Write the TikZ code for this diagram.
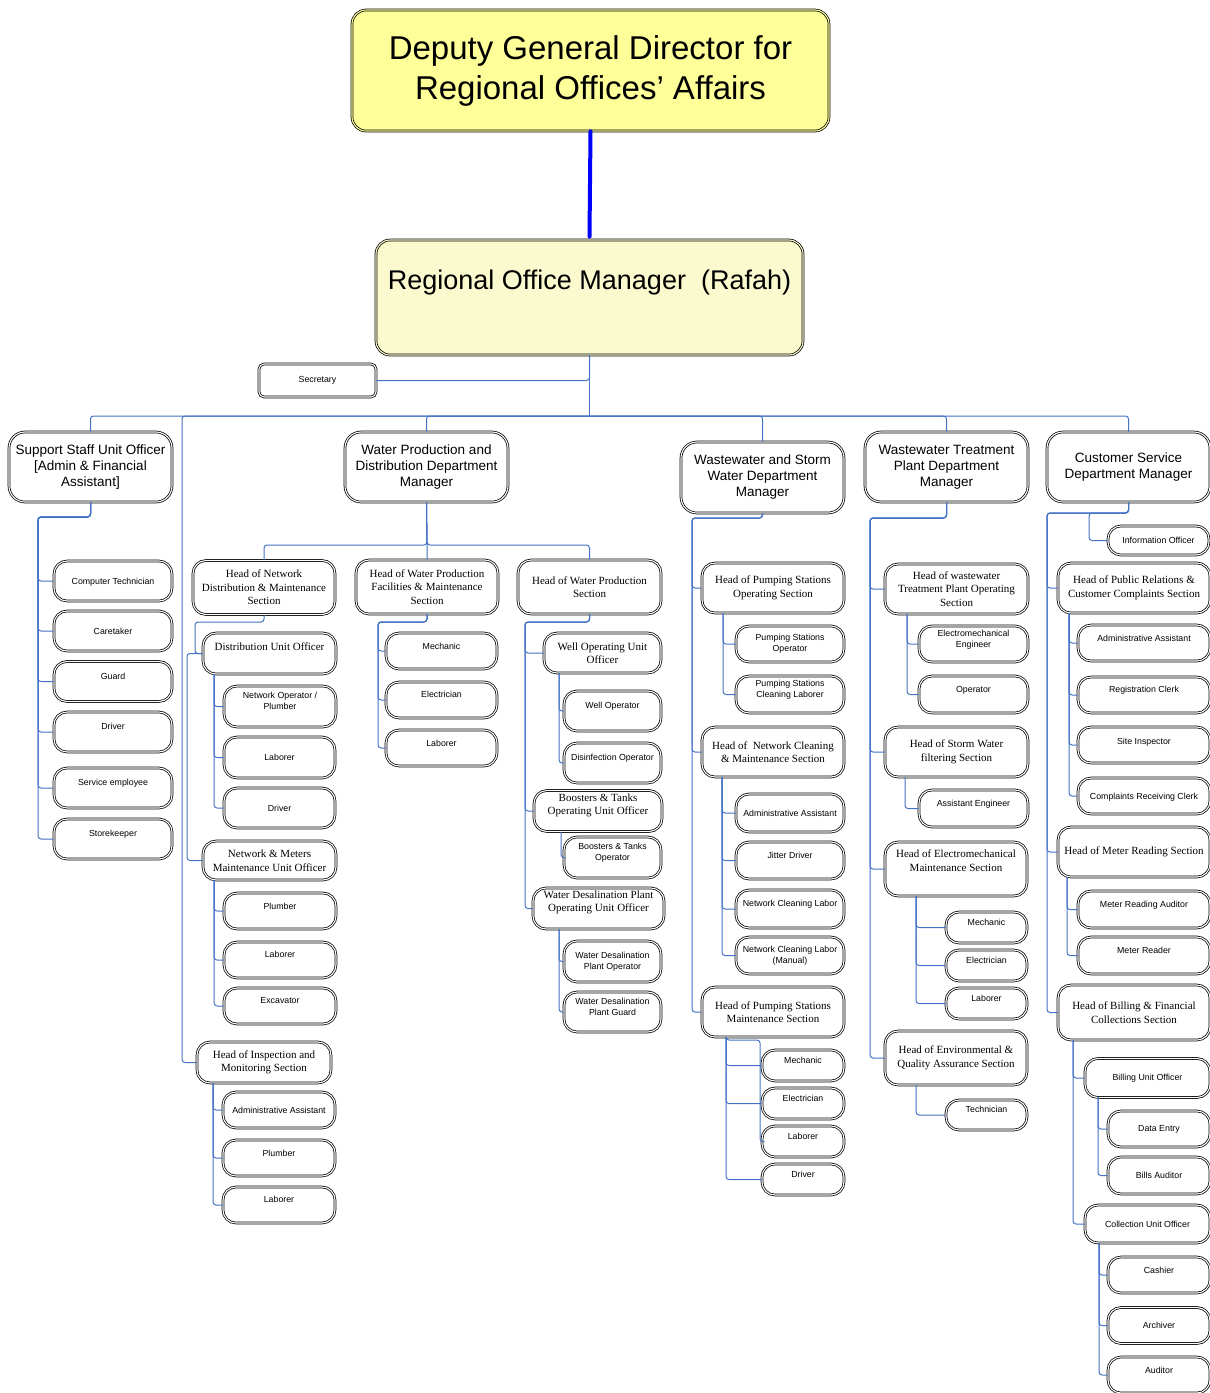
\documentclass[tikz,border=0pt]{standalone}
\usepackage{fontspec}
\setmainfont{Liberation Serif}
\newfontfamily\arial{Liberation Sans}
\definecolor{linkblue}{RGB}{68,114,196}
\definecolor{topyellow}{RGB}{255,255,153}
\definecolor{romyellow}{RGB}{250,250,206}
\tikzset{
  box/.style={draw=black, double=white, double distance=1.1pt, line width=0.75pt,
    rounded corners=13pt, fill=white, align=center, inner sep=1pt},
  dept/.style={box, rounded corners=16pt, font=\arial\fontsize{13.5}{16}\selectfont},
  head/.style={box, font=\fontsize{11}{13.5}\selectfont},
  staff/.style={box, font=\arial\fontsize{8.8}{11}\selectfont},
  sz/.style 2 args={minimum width=#1pt, minimum height=#2pt},
  hi/.style={text height=6.3pt, text depth=#1},
  hii/.style={text height=6.3pt, text depth=#1-11pt},
  hih/.style={text height=7.3pt, text depth=#1-13.5pt},
  conn/.style={draw=linkblue, line width=1pt, rounded corners=3pt},
}
\begin{document}
\begin{tikzpicture}[x=1pt, y=-1pt]
\useasboundingbox (0,0) rectangle (1210,1393);

% top of the chart
\node[box, fill=topyellow, double=topyellow, rounded corners=14pt, sz={477}{121},
  font=\arial\fontsize{33}{40}\selectfont] (dgd) at (590.5,70.5)
  {Deputy General Director for\\Regional Offices’ Affairs};
\node[box, fill=romyellow, double=romyellow, rounded corners=14pt, sz={427}{115},
  font=\arial\fontsize{27}{32}\selectfont, text height=19.5pt, text depth=35pt]
  (rom) at (589.5,297.5) {Regional Office Manager\ \ (Rafah)};
\node[staff, rounded corners=5pt, sz={117}{33}] (sec) at (317.5,380.5) {Secretary};
\draw[line width=4pt, blue, line cap=round] (dgd.south) -- ([yshift=3pt]rom.north);

% departments
\node[dept, sz={163}{70}] (supp) at (90.5,467) {Support Staff Unit Officer\\{}[Admin \& Financial\\Assistant]};
\node[dept, sz={163}{70}] (wpd) at (426.5,467) {Water Production and\\Distribution Department\\Manager};
\node[dept, sz={163}{71}] (wsw) at (762.5,477.5) {Wastewater and Storm\\Water Department\\Manager};
\node[dept, sz={163}{70}] (wtp) at (946.5,467) {Wastewater Treatment\\Plant Department\\Manager};
\node[dept, sz={163}{70}] (cs) at (1128.5,467) {Customer Service\\Department Manager};

\coordinate (bus) at (589.5,416);
\draw[conn] (rom.south) |- (sec.east);
\draw[conn] (rom.south) -- (bus);
\foreach \d in {supp,wpd,wsw,wtp,cs} \draw[conn] (bus) -| (\d.north);

% support staff unit
\foreach \n/\y/\t/\u in {ct/581/Computer Technician/0pt, ctk/631/Caretaker/0pt, gd/681.5/Guard/11pt,
  drv1/732/Driver/12pt, semp/788/Service employee/12pt, stk/839/Storekeeper/12pt}
  \node[staff, sz={118}{40}, hi=\u] (\n) at (113,\y) {\t};
\coordinate (suppT) at (38,517);
\foreach \n in {ct,ctk,gd,drv1,semp,stk} \draw[conn] (supp.south) |- (suppT) |- (\n.west);

% water production and distribution
\node[head, sz={142}{54}] (hnd) at (264,587.5) {Head of Network\\Distribution \& Maintenance\\Section};
\node[head, sz={142}{54}] (hwpf) at (427,587) {Head of Water Production\\Facilities \& Maintenance\\Section};
\node[head, sz={143}{54}] (hwps) at (589.5,587) {Head of Water Production\\Section};
\coordinate (wpdB) at (427,545);
\foreach \h in {hnd,hwpf,hwps} \draw[conn] (wpd.south) -- (wpdB) -| (\h.north);

% network distribution section
\node[head, sz={133}{41}, text height=7.3pt, text depth=13pt] (duo) at (269.5,653.5) {Distribution Unit Officer};
\node[staff, sz={112}{41}, hii=12pt] (nop) at (280,706.5) {Network Operator /\\Plumber};
\node[staff, sz={111}{41}] (lab1) at (279.5,757.5) {Laborer};
\node[staff, sz={111}{40}] (drv2) at (279.5,808) {Driver};
\node[head, sz={133}{39}] (nmm) at (269.5,860.5) {Network \& Meters\\Maintenance Unit Officer};
\foreach \n/\y/\t/\u in {plb1/911/Plumber/10pt, lab2/960/Laborer/12pt, exc/1006/Excavator/12pt}
  \node[staff, sz={112}{36}, hi=\u] (\n) at (280,\y) {\t};
\node[head, sz={134}{41}] (insp) at (264,1062.5) {Head of Inspection and\\Monitoring Section};
\foreach \n/\y/\t/\u in {adm1/1110/Administrative Assistant/0pt, plb2/1158/Plumber/10pt, lab3/1205/Laborer/12pt}
  \node[staff, sz={112}{36}, hi=\u] (\n) at (279,\y) {\t};
\coordinate (hndT) at (195,622);
\coordinate (duoL) at (187,660);
\coordinate (ndL) at (182,440);
\draw[conn] (hnd.south) |- (hndT) |- (duo.west);
\draw[conn] (duo.west) -| (duoL) |- (nmm.west);
\draw[conn] (bus) -| (ndL) |- (insp.west);
\coordinate (duoT) at (214,674);
\foreach \n in {nop,lab1,drv2} \draw[conn] (duoT) |- (\n.west);
\coordinate (nmmT) at (214,880);
\foreach \n in {plb1,lab2,exc} \draw[conn] (nmmT) |- (\n.west);
\coordinate (inspT) at (213,1083);
\foreach \n in {adm1,plb2,lab3} \draw[conn] (inspT) |- (\n.west);

% production facilities section
\foreach \n/\y/\t/\u in {mech1/651/Mechanic/10pt, elec1/700/Electrician/12pt, lab4/748/Laborer/10pt}
  \node[staff, sz={111}{36}, hi=\u] (\n) at (441.5,\y) {\t};
\coordinate (hwpfT) at (378,622);
\foreach \n in {mech1,elec1,lab4} \draw[conn] (hwpf.south) |- (hwpfT) |- (\n.west);

% water production section
\node[head, sz={117}{40}] (wou) at (602.5,653) {Well Operating Unit\\Officer};
\node[staff, sz={97}{40}, hi=12pt] (wop) at (612.5,711) {Well Operator};
\node[staff, sz={97}{40}, hi=12pt] (dis) at (612.5,763) {Disinfection Operator};
\node[head, sz={128}{41}, hih=12pt] (btu) at (598,811) {Boosters \& Tanks\\Operating Unit Officer};
\node[staff, sz={97}{41}, hii=10pt] (bto) at (612.5,857.5) {Boosters \& Tanks\\Operator};
\node[head, sz={131}{41}, hih=14pt] (wdu) at (598.5,908.5) {Water Desalination Plant\\Operating Unit Officer};
\node[staff, sz={97}{41}] (wdo) at (612.5,961.5) {Water Desalination\\Plant Operator};
\node[staff, sz={97}{40}, hii=11pt] (wdg) at (612.5,1012) {Water Desalination\\Plant Guard};
\coordinate (hwpsT) at (525,622);
\foreach \n in {wou,btu,wdu} \draw[conn] (hwps.south) |- (hwpsT) |- (\n.west);
\coordinate (wouT) at (559,673);
\foreach \n in {wop,dis} \draw[conn] (wouT) |- (\n.west);
\coordinate (btuT) at (561,832);
\draw[conn] (btuT) |- (bto.west);
\coordinate (wduT) at (559,929);
\foreach \n in {wdo,wdg} \draw[conn] (wduT) |- (\n.west);

% wastewater and storm water
\node[head, sz={142}{50}] (hpso) at (773,588) {Head of Pumping Stations\\Operating Section};
\node[staff, sz={108}{36}] (pso) at (790,644) {Pumping Stations\\Operator};
\node[staff, sz={108}{37}, hii=10pt] (pscl) at (790,694.5) {Pumping Stations\\Cleaning Laborer};
\node[head, sz={142}{50}] (hncm) at (773,752) {Head of\ \ Network Cleaning\\\& Maintenance Section};
\node[staff, sz={108}{38}] (adm2) at (790,813) {Administrative Assistant};
\node[staff, sz={108}{37}, hi=11pt] (jit) at (790,860.5) {Jitter Driver};
\node[staff, sz={108}{38}, hi=12pt] (ncl) at (790,909) {Network Cleaning Labor};
\node[staff, sz={108}{37}] (nclm) at (790,955.5) {Network Cleaning Labor\\(Manual)};
\node[head, sz={142}{50}] (hpsm) at (773,1012) {Head of Pumping Stations\\Maintenance Section};
\foreach \n/\y/\t in {mech2/1065.5/Mechanic, elec2/1103.5/Electrician, lab5/1141.5/Laborer, drv3/1179.5/Driver}
  \node[staff, sz={82}{31}, hi=11pt] (\n) at (803,\y) {\t};
\coordinate (wswT) at (692,518);
\foreach \n in {hpso,hncm,hpsm} \draw[conn] (wsw.south) |- (wswT) |- (\n.west);
\coordinate (hpsoT) at (723,613);
\foreach \n in {pso,pscl} \draw[conn] (hpsoT) |- (\n.west);
\coordinate (hncmT) at (722,777);
\foreach \n in {adm2,jit,ncl,nclm} \draw[conn] (hncmT) |- (\n.west);
\coordinate (hpsmT) at (726,1037);
\coordinate (hpsmR) at (760,1040);
\foreach \n in {mech2,elec2,drv3} \draw[conn] (hpsmT) |- (\n.west);
\draw[conn] (hpsmT) |- (hpsmR) |- (lab5.west);

% wastewater treatment plant
\node[head, sz={143}{50}] (hwto) at (956.5,589) {Head of wastewater\\Treatment Plant Operating\\Section};
\node[staff, sz={109}{36}, hii=11pt] (eme) at (973.5,644) {Electromechanical\\Engineer};
\node[staff, sz={109}{37}, hi=11pt] (opr) at (973.5,694.5) {Operator};
\node[head, sz={143}{50}] (hswf) at (956.5,752) {Head of Storm Water\\filtering Section};
\node[staff, sz={109}{37}, hi=11pt] (aeng) at (973.5,808.5) {Assistant Engineer};
\node[head, sz={142}{54}, hih=16pt] (hem) at (956,869) {Head of Electromechanical\\Maintenance Section};
\foreach \n/\y/\t in {mech3/927.5/Mechanic, elec3/965.5/Electrician, lab6/1003.5/Laborer}
  \node[staff, sz={81}{31}, hi=11pt] (\n) at (986.5,\y) {\t};
\node[head, sz={142}{54}] (heqa) at (956,1058) {Head of Environmental \&\\Quality Assurance Section};
\node[staff, sz={81}{30}, hi=12pt] (tech) at (986.5,1115) {Technician};
\coordinate (wtpT) at (870,518);
\foreach \n in {hwto,hswf,hem,heqa} \draw[conn] (wtp.south) |- (wtpT) |- (\n.west);
\coordinate (hwtoT) at (907,614);
\foreach \n in {eme,opr} \draw[conn] (hwtoT) |- (\n.west);
\coordinate (hswfT) at (905,777);
\draw[conn] (hswfT) |- (aeng.west);
\coordinate (hemT) at (916,896);
\foreach \n in {mech3,elec3,lab6} \draw[conn] (hemT) |- (\n.west);
\coordinate (heqaT) at (916,1085);
\draw[conn] (heqaT) |- (tech.west);

% customer service
\node[staff, sz={101}{29}] (info) at (1158.5,540.5) {Information Officer};
\node[head, sz={152}{50}] (hprc) at (1134,588) {Head of Public Relations \&\\Customer Complaints Section};
\foreach \n/\y/\t/\u in {adm3/643/Administrative Assistant/10pt, reg/695/Registration Clerk/12pt,
  site/745/Site Inspector/8pt, crc/796/Complaints Receiving Clerk/0pt}
  \node[staff, sz={132}{36}, hi=\u] (\n) at (1144,\y) {\t};
\node[head, sz={152}{50}] (hmr) at (1134,852) {Head of Meter Reading Section};
\foreach \n/\y/\t in {mra/909.5/Meter Reading Auditor, mrd/955.5/Meter Reader}
  \node[staff, sz={132}{37}, hi=11pt] (\n) at (1144,\y) {\t};
\node[head, sz={152}{55}] (hbfc) at (1134,1012.5) {Head of Billing \& Financial\\Collections Section};
\node[staff, sz={125}{39}] (buo) at (1147.5,1078) {Billing Unit Officer};
\node[staff, sz={102}{36}] (den) at (1159,1129) {Data Entry};
\node[staff, sz={102}{37}] (bau) at (1159,1175.5) {Bills Auditor};
\node[staff, sz={125}{38}] (cuo) at (1147.5,1224) {Collection Unit Officer};
\foreach \n/\y/\t/\u in {csh/1275/Cashier/10pt, arc/1325.5/Archiver/0pt, aud/1375/Auditor/10pt}
  \node[staff, sz={102}{36}, hi=\u] (\n) at (1159,\y) {\t};
\coordinate (csT) at (1047,513);
\coordinate (csI) at (1089,513);
\draw[conn] (cs.south) |- (csI) |- (info.west);
\foreach \n in {hprc,hmr,hbfc} \draw[conn] (cs.south) |- (csT) |- (\n.west);
\coordinate (hprcT) at (1069,613);
\foreach \n in {adm3,reg,site,crc} \draw[conn] (hprcT) |- (\n.west);
\coordinate (hmrT) at (1067,877);
\foreach \n in {mra,mrd} \draw[conn] (hmrT) |- (\n.west);
\coordinate (hbfcT) at (1073,1040);
\foreach \n in {buo,cuo} \draw[conn] (hbfcT) |- (\n.west);
\coordinate (buoT) at (1098,1097);
\foreach \n in {den,bau} \draw[conn] (buoT) |- (\n.west);
\coordinate (cuoT) at (1099,1243);
\foreach \n in {csh,arc,aud} \draw[conn] (cuoT) |- (\n.west);
\end{tikzpicture}
\end{document}
